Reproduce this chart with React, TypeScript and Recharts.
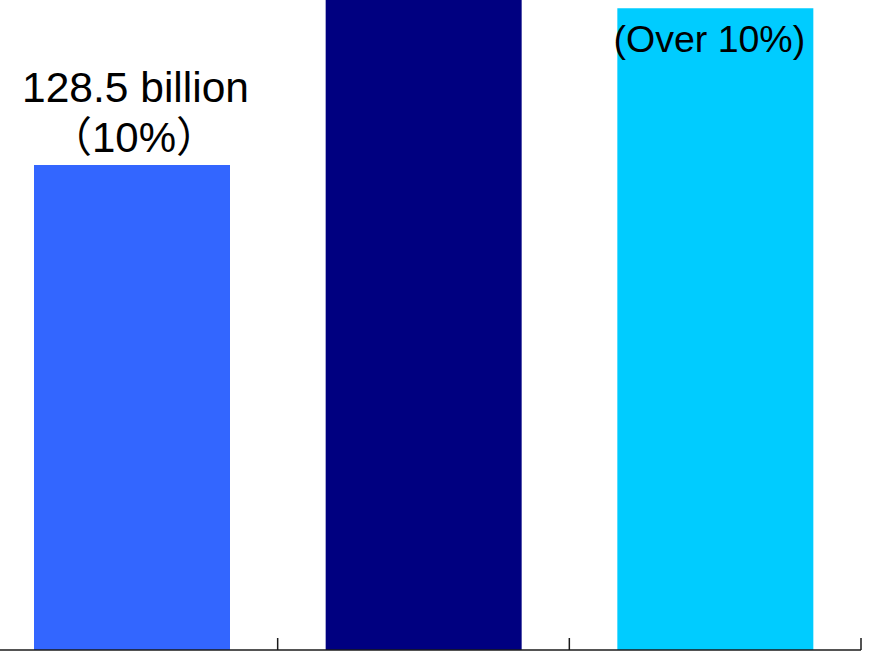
import React from "react";
import { BarChart, Bar, XAxis, YAxis, Cell, LabelList } from "recharts";

const positions = [1, 2, 3];
const values = [128.5, 190, 170];
const colors = ["#3366FF", "#000080", "#00CCFF"];
const labelLines: string[][] = [["128.5 billion", "（10%）"], [], ["(Over 10%)"]];
const xTicks = [0.5, 1.5, 2.5, 3.5];

const data = positions.map((x, i) => ({ x, v: values[i] }));

const FONT = "'Liberation Sans', Arial, 'Noto Sans CJK SC', sans-serif";

const renderLabel = (props: any) => {
  const { x, y, width, index } = props;
  const lines = labelLines[index] || [];
  if (!lines.length) return null;
  const cx = Number(x) + Number(width) / 2;
  if (index === 0) {
    return (
      <g>
        <text x={cx + 3.5} y={Number(y) - 63} textAnchor="middle" fontSize={42.5} fontFamily={FONT} fill="#000">
          {lines[0]}
        </text>
        <text x={cx + 2} y={Number(y) - 13} textAnchor="middle" fontSize={42} fontFamily={FONT} fill="#000">
          {lines[1]}
        </text>
      </g>
    );
  }
  return (
    <text x={cx - 6} y={Number(y) + 44} textAnchor="middle" fontSize={37.5} fontFamily={FONT} fill="#000">
      {lines[0]}
    </text>
  );
};

export default function App() {
  return (
    <div style={{ position: "absolute", left: -14.5, top: 0 }}>
      <BarChart width={890} height={660} data={data} margin={{ top: 0, right: 15, left: 0, bottom: 0 }}>
        <XAxis
          type="number"
          dataKey="x"
          domain={[0.5, 3.5]}
          ticks={xTicks}
          height={10}
          tickSize={-12}
          tickFormatter={() => ""}
          stroke="#1a1a1a"
          strokeWidth={1.5}
          allowDataOverflow
        />
        <YAxis hide domain={[0, 172.2]} allowDataOverflow />
        <Bar dataKey="v" barSize={196} isAnimationActive={false}>
          {data.map((_, i) => (
            <Cell key={i} fill={colors[i]} />
          ))}
          <LabelList dataKey="v" content={renderLabel} />
        </Bar>
      </BarChart>
    </div>
  );
}
